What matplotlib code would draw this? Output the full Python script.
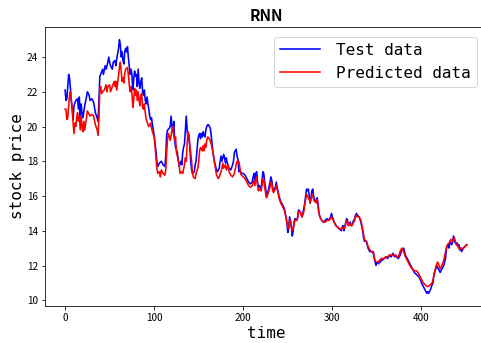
import matplotlib
matplotlib.use("Agg")
import matplotlib.pyplot as plt

test_t = [0, 1, 2, 3, 4, 5, 6, 7, 8, 9, 10, 12, 14, 15, 16, 17, 18, 19, 20, 22, 24, 25, 27, 28, 30, 32, 34, 36, 37, 38, 39, 40, 42, 43, 45, 46, 48, 49, 50, 51, 53, 54, 56, 57, 58, 60, 61, 62, 63, 64, 65, 66, 67, 68, 69, 70, 71, 72, 73, 74, 75, 76, 77, 78, 79, 80, 81, 82, 83, 84, 85, 86, 87, 88, 89, 90, 91, 92, 93, 94, 95, 96, 97, 98, 99, 100, 101, 102, 103, 104, 106, 108, 110, 112, 113, 114, 115, 117, 118, 119, 120, 121, 122, 123, 124, 126, 127, 128, 130, 131, 132, 133, 134, 135, 136, 137, 138, 139, 140, 141, 142, 143, 145, 146, 147, 148, 149, 150, 151, 152, 153, 154, 155, 156, 157, 158, 159, 160, 161, 163, 164, 165, 166, 168, 170, 171, 173, 174, 175, 176, 177, 178, 179, 180, 181, 182, 184, 186, 188, 189, 190, 191, 192, 193, 194, 195, 196, 198, 200, 202, 204, 206, 208, 210, 211, 212, 213, 214, 215, 216, 217, 218, 220, 221, 222, 223, 224, 225, 226, 227, 228, 230, 231, 232, 233, 234, 236, 237, 238, 239, 240, 242, 244, 246, 247, 248, 249, 250, 251, 252, 253, 254, 255, 256, 257, 258, 260, 261, 262, 264, 265, 266, 268, 269, 270, 271, 272, 273, 274, 275, 276, 277, 278, 279, 280, 282, 283, 284, 285, 286, 288, 290, 292, 294, 296, 298, 299, 300, 302, 304, 306, 308, 310, 311, 312, 313, 314, 315, 316, 317, 318, 320, 321, 322, 323, 325, 326, 327, 328, 330, 332, 334, 335, 336, 338, 339, 340, 342, 344, 346, 347, 348, 349, 350, 352, 353, 354, 355, 356, 358, 360, 362, 364, 366, 368, 370, 371, 372, 374, 376, 378, 380, 382, 384, 386, 388, 390, 392, 394, 396, 398, 400, 402, 404, 406, 407, 408, 410, 412, 413, 414, 416, 417, 418, 420, 421, 423, 425, 427, 428, 430, 431, 432, 434, 435, 436, 437, 438, 440, 441, 442, 443, 444, 445, 447, 449, 451]
test_price = [22.1, 21.5, 21.6, 22.3, 23.0, 22.8, 22.2, 21.5, 21.0, 20.4, 21.2, 21.5, 21.6, 21.0, 21.7, 20.5, 21.3, 20.8, 20.5, 21.2, 21.7, 22.0, 21.8, 21.5, 21.6, 21.4, 20.8, 20.5, 20.3, 21.5, 22.9, 23.0, 23.3, 23.0, 23.5, 23.3, 23.7, 24.0, 23.7, 23.5, 23.3, 23.7, 23.8, 23.5, 23.9, 24.5, 25.0, 24.7, 24.0, 24.3, 23.8, 23.6, 24.3, 24.5, 24.3, 24.6, 24.0, 23.5, 23.0, 23.3, 23.0, 22.1, 22.7, 23.2, 22.9, 23.0, 22.3, 23.3, 22.5, 22.2, 22.6, 22.8, 22.0, 21.8, 22.1, 21.5, 21.3, 21.7, 21.3, 21.0, 20.6, 20.4, 20.5, 20.1, 19.8, 19.5, 19.0, 18.6, 18.0, 17.7, 17.9, 18.0, 17.8, 17.7, 18.3, 19.5, 19.8, 19.9, 20.0, 20.6, 20.0, 19.7, 20.3, 19.2, 18.8, 18.5, 18.1, 17.7, 18.0, 17.8, 18.5, 18.8, 19.0, 19.8, 20.6, 19.8, 19.2, 19.5, 18.8, 18.0, 17.5, 17.3, 17.4, 17.8, 18.0, 18.6, 19.2, 19.5, 19.6, 19.3, 19.6, 19.4, 19.7, 19.5, 19.4, 19.8, 20.0, 20.1, 20.1, 19.9, 19.5, 19.0, 18.5, 17.9, 17.5, 17.4, 17.6, 18.0, 18.3, 18.0, 18.2, 18.4, 18.2, 17.9, 18.2, 17.9, 17.6, 17.5, 17.8, 18.0, 18.5, 18.6, 18.7, 18.3, 18.1, 17.4, 17.5, 17.3, 17.3, 17.2, 17.0, 16.8, 16.7, 16.8, 17.1, 17.3, 16.9, 17.3, 17.4, 16.8, 16.5, 16.6, 16.4, 16.9, 17.4, 17.3, 16.8, 16.5, 16.0, 16.2, 16.3, 16.8, 17.1, 16.9, 16.5, 16.3, 16.5, 16.8, 16.5, 16.3, 16.0, 15.7, 15.5, 15.3, 15.0, 14.8, 14.4, 13.9, 14.2, 14.8, 14.5, 14.2, 13.7, 14.0, 14.5, 14.7, 14.6, 14.8, 15.2, 15.1, 14.9, 14.8, 15.3, 15.6, 16.0, 16.4, 16.3, 16.4, 16.0, 15.6, 15.9, 16.3, 16.4, 16.0, 15.8, 15.7, 15.9, 15.5, 15.0, 14.8, 14.6, 14.5, 14.6, 14.7, 14.6, 14.8, 15.0, 14.8, 14.5, 14.3, 14.2, 14.1, 14.0, 14.2, 14.3, 14.0, 14.2, 14.5, 14.7, 14.6, 14.3, 14.5, 14.3, 14.3, 14.5, 14.7, 14.9, 15.0, 14.9, 14.8, 14.5, 14.0, 13.6, 13.4, 13.4, 13.2, 13.0, 12.8, 12.8, 12.7, 12.4, 12.2, 12.0, 12.2, 12.1, 12.3, 12.2, 12.4, 12.3, 12.4, 12.5, 12.4, 12.6, 12.5, 12.7, 12.5, 12.6, 12.5, 12.4, 12.6, 12.9, 13.0, 12.6, 12.4, 12.2, 12.0, 11.8, 11.6, 11.5, 11.4, 11.3, 11.0, 10.8, 10.6, 10.4, 10.5, 10.4, 10.6, 10.9, 11.0, 11.5, 11.8, 12.0, 11.9, 11.7, 11.6, 11.8, 12.0, 12.4, 13.0, 13.2, 13.0, 13.4, 13.2, 13.4, 13.7, 13.4, 13.3, 13.3, 13.1, 13.2, 12.9, 13.0, 12.8, 13.0, 13.1, 13.2]

pred_t = [0, 1, 2, 3, 4, 5, 6, 7, 8, 9, 10, 11, 12, 13, 14, 15, 16, 17, 18, 19, 20, 21, 22, 24, 25, 26, 28, 30, 32, 34, 36, 37, 38, 39, 40, 41, 42, 44, 46, 47, 48, 50, 51, 53, 55, 56, 57, 58, 60, 61, 62, 63, 64, 65, 66, 67, 68, 70, 71, 72, 73, 74, 75, 76, 77, 78, 79, 80, 81, 82, 83, 84, 85, 86, 87, 88, 89, 90, 91, 92, 93, 94, 96, 97, 98, 100, 101, 102, 103, 104, 106, 107, 108, 110, 112, 113, 114, 115, 116, 117, 118, 120, 121, 122, 123, 124, 125, 126, 128, 129, 131, 132, 134, 135, 136, 137, 138, 139, 140, 141, 142, 143, 144, 146, 147, 149, 150, 151, 152, 154, 155, 156, 157, 158, 159, 160, 162, 164, 166, 168, 170, 172, 173, 175, 176, 177, 178, 180, 181, 183, 184, 186, 188, 190, 192, 193, 195, 196, 197, 198, 200, 202, 204, 206, 208, 210, 212, 213, 214, 215, 216, 217, 218, 220, 221, 222, 223, 224, 225, 226, 227, 228, 230, 231, 232, 233, 234, 236, 237, 238, 239, 240, 242, 244, 246, 248, 249, 250, 251, 252, 253, 254, 255, 256, 257, 258, 260, 261, 262, 264, 265, 266, 268, 269, 270, 271, 272, 273, 274, 275, 276, 277, 278, 279, 280, 282, 283, 284, 285, 286, 288, 290, 292, 294, 296, 298, 299, 300, 302, 304, 306, 308, 310, 311, 312, 313, 314, 315, 316, 317, 318, 320, 321, 322, 323, 325, 326, 327, 328, 330, 332, 334, 335, 336, 338, 339, 340, 342, 344, 346, 347, 348, 349, 350, 352, 353, 354, 355, 356, 358, 360, 362, 364, 366, 368, 370, 372, 374, 376, 377, 378, 380, 382, 384, 386, 388, 390, 392, 394, 396, 398, 400, 402, 404, 406, 408, 410, 412, 414, 416, 418, 419, 421, 423, 425, 427, 429, 431, 433, 435, 437, 439, 441, 443, 445, 447, 449, 451]
pred_price = [21.0, 21.0, 20.4, 20.5, 21.2, 21.8, 22.0, 21.5, 21.0, 20.2, 19.6, 20.2, 20.0, 20.5, 20.8, 20.3, 20.6, 19.8, 20.6, 20.0, 19.7, 20.3, 19.8, 20.5, 20.9, 20.8, 20.6, 20.7, 20.6, 20.1, 19.8, 19.5, 20.5, 22.2, 22.3, 21.9, 22.0, 22.1, 22.4, 22.0, 22.3, 22.4, 22.0, 22.3, 22.6, 22.3, 22.6, 22.1, 23.0, 23.4, 23.7, 23.2, 22.6, 22.8, 22.5, 23.1, 23.3, 23.4, 23.0, 22.4, 22.0, 22.3, 21.9, 21.1, 21.5, 22.2, 21.8, 22.1, 21.5, 22.0, 21.5, 21.2, 21.8, 21.9, 21.1, 21.0, 21.3, 20.8, 20.4, 20.3, 20.1, 20.0, 20.2, 19.9, 19.7, 19.4, 18.9, 18.2, 17.6, 17.3, 17.4, 17.1, 17.5, 17.3, 17.2, 17.5, 18.5, 19.3, 19.6, 19.4, 19.2, 19.8, 20.0, 19.5, 19.2, 19.4, 18.5, 18.3, 17.8, 17.3, 17.4, 17.3, 17.8, 18.2, 18.0, 19.0, 19.7, 19.5, 18.9, 18.5, 18.0, 17.3, 17.1, 17.0, 17.3, 17.6, 18.0, 18.6, 18.8, 18.6, 18.9, 18.6, 19.0, 18.8, 19.2, 19.4, 19.3, 19.0, 18.5, 17.8, 17.2, 17.0, 17.1, 17.4, 17.6, 17.9, 17.6, 17.8, 17.5, 17.8, 17.4, 17.2, 17.1, 17.3, 17.8, 18.0, 18.0, 17.7, 17.3, 17.2, 17.1, 17.0, 16.8, 16.6, 16.5, 16.6, 16.9, 16.6, 16.9, 17.1, 16.6, 16.3, 16.4, 16.3, 16.6, 17.0, 16.9, 16.5, 16.2, 15.9, 16.0, 16.2, 16.5, 16.8, 16.7, 16.3, 16.2, 16.4, 16.6, 16.4, 16.2, 15.9, 15.6, 15.4, 15.2, 14.8, 14.5, 14.2, 14.1, 14.6, 14.6, 14.3, 14.0, 14.1, 14.4, 14.6, 14.6, 14.7, 15.1, 15.1, 14.9, 14.8, 15.1, 15.5, 15.8, 16.1, 16.0, 15.9, 15.8, 15.6, 15.8, 16.0, 16.1, 15.8, 15.7, 15.6, 15.8, 15.3, 15.0, 14.8, 14.6, 14.5, 14.5, 14.6, 14.6, 14.7, 14.8, 14.7, 14.5, 14.3, 14.2, 14.1, 14.1, 14.2, 14.2, 14.1, 14.2, 14.4, 14.6, 14.5, 14.3, 14.4, 14.3, 14.3, 14.4, 14.6, 14.8, 14.9, 14.8, 14.8, 14.6, 14.1, 13.8, 13.5, 13.4, 13.3, 13.1, 12.9, 12.8, 12.8, 12.5, 12.3, 12.2, 12.2, 12.2, 12.3, 12.3, 12.4, 12.4, 12.4, 12.5, 12.5, 12.6, 12.6, 12.6, 12.6, 12.5, 12.5, 12.8, 12.9, 13.0, 12.8, 12.5, 12.3, 12.1, 11.9, 11.8, 11.7, 11.7, 11.6, 11.4, 11.2, 11.0, 10.9, 10.8, 10.8, 10.9, 11.0, 11.4, 11.9, 12.2, 12.1, 11.8, 12.0, 12.3, 12.8, 13.2, 13.3, 13.5, 13.4, 13.6, 13.2, 13.1, 12.9, 13.0, 13.0, 13.1, 13.2]

title_text = "RNN"
x_label = "time"
y_label = "stock price"
legend_labels = ["Test data", "Predicted data"]

W, H, DPI = 481, 343, 72
fig = plt.figure(figsize=(W / DPI, H / DPI), dpi=DPI)
ax = fig.add_axes([45 / W, (H - 306) / H, (487 - 45) / W, (306 - 27) / H])

ax.plot(test_t, test_price, color="blue", lw=1.6, label=legend_labels[0])
ax.plot(pred_t, pred_price, color="red", lw=1.6, label=legend_labels[1])

tick_font = ["Noto Sans CJK SC", "DejaVu Sans"]
mono = ["DejaVu Sans Mono"]
ax.set_title(title_text, fontsize=15.5, family=tick_font, fontweight="bold", pad=6)
ax.set_xlabel(x_label, fontsize=16, family=mono, labelpad=3)
ax.set_ylabel(y_label, fontsize=16, family=mono, labelpad=2)
ax.set_xticks([0, 100, 200, 300, 400])
ax.set_yticks([10, 12, 14, 16, 18, 20, 22, 24])
for lab in ax.get_xticklabels() + ax.get_yticklabels():
    lab.set_family(tick_font)
    lab.set_fontsize(10)

ax.legend(loc="upper right", prop={"family": mono, "size": 16},
          handlelength=2.5, handletextpad=1.0, borderaxespad=0.6)

fig.savefig("out.png", dpi=DPI)
